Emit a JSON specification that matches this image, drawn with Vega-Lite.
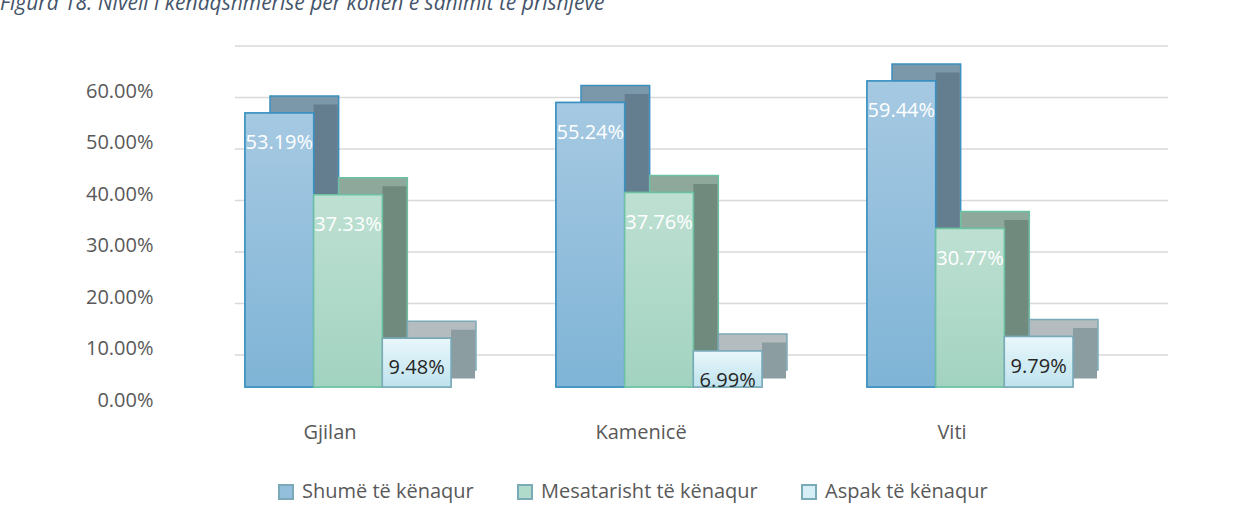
{
  "$schema": "https://vega.github.io/schema/vega-lite/v6.json",
  "width": 933,
  "height": 309,
  "autosize": {"type": "none"},
  "padding": {"left": 235, "top": 78, "right": 81, "bottom": 133},
  "background": "white",
  "title": {
    "text": "Figura 18. Niveli i kënaqshmërisë për kohën e sahimit të prishjeve",
    "anchor": "start",
    "frame": "group",
    "dx": -235,
    "dy": -27,
    "font": "Open Sans",
    "fontSize": 21,
    "fontStyle": "italic",
    "fontWeight": "normal",
    "color": "#44546A"
  },
  "config": {
    "view": {"stroke": null},
    "font": "Open Sans",
    "legend": {
      "orient": "none",
      "legendX": 41,
      "legendY": 404,
      "direction": "horizontal",
      "symbolType": "square",
      "symbolSize": 196,
      "symbolStrokeWidth": 2,
      "labelFont": "Open Sans",
      "labelFontSize": 20,
      "labelColor": "#595959",
      "labelOffset": 6,
      "labelLimit": 400,
      "columnPadding": 40
    }
  },
  "layer": [
    {
      "data": {"values": [{"t": 0}, {"t": 0.1}, {"t": 0.2}, {"t": 0.3}, {"t": 0.4}, {"t": 0.5}, {"t": 0.6}]},
      "mark": {"type": "rule", "color": "#d9d9d9", "strokeWidth": 1.5, "yOffset": -32},
      "encoding": {
        "y": {
          "field": "t", "type": "quantitative", "scale": {"domain": [0, 0.6]},
          "axis": {"title": null, "format": ".2%", "values": [0, 0.1, 0.2, 0.3, 0.4, 0.5, 0.6], "grid": false, "domain": false, "ticks": false, "labelPadding": 82, "labelOffset": 13, "labelFontSize": 20, "labelColor": "#595959", "labelFont": "Open Sans"}
        }
      }
    },
    {
      "data": {
        "values": [
          {"komuna": "Gjilan", "niveli": "Shumë të kënaqur", "vlera": 0.5319},
          {"komuna": "Gjilan", "niveli": "Mesatarisht të kënaqur", "vlera": 0.3733},
          {"komuna": "Gjilan", "niveli": "Aspak të kënaqur", "vlera": 0.0948},
          {"komuna": "Kamenicë", "niveli": "Shumë të kënaqur", "vlera": 0.5524},
          {"komuna": "Kamenicë", "niveli": "Mesatarisht të kënaqur", "vlera": 0.3776},
          {"komuna": "Kamenicë", "niveli": "Aspak të kënaqur", "vlera": 0.0699},
          {"komuna": "Viti", "niveli": "Shumë të kënaqur", "vlera": 0.5944},
          {"komuna": "Viti", "niveli": "Mesatarisht të kënaqur", "vlera": 0.3077},
          {"komuna": "Viti", "niveli": "Aspak të kënaqur", "vlera": 0.0979}
        ]
      },
      "encoding": {
        "x": {
          "field": "komuna", "type": "nominal", "sort": ["Gjilan", "Kamenicë", "Viti"],
          "scale": {"paddingInner": 0.3376, "paddingOuter": 0.1688, "align": 0.0952},
          "axis": {"title": null, "ticks": false, "domain": false, "labelAngle": 0, "labelPadding": 35, "labelOffset": -18, "labelFontSize": 20, "labelColor": "#595959", "labelFont": "Open Sans"}
        },
        "y": {
          "field": "vlera", "type": "quantitative", "scale": {"domain": [0, 0.6]},
          "axis": {"title": null, "format": ".2%", "values": [0, 0.1, 0.2, 0.3, 0.4, 0.5, 0.6], "grid": false, "domain": false, "ticks": false, "labelPadding": 82, "labelOffset": 13, "labelFontSize": 20, "labelColor": "#595959", "labelFont": "Open Sans"}
        }
      },
      "resolve": {"scale": {"xOffset": "independent"}},
      "layer": [
        {
          "mark": {"type": "bar", "yOffset": -17, "y2Offset": -17, "strokeWidth": 1.5},
          "encoding": {
            "xOffset": {"field": "niveli", "type": "nominal", "sort": ["Shumë të kënaqur", "Mesatarisht të kënaqur", "Aspak të kënaqur"], "scale": {"range": [25, 231]}},
            "fill": {"condition": [{"test": "datum.niveli === 'Shumë të kënaqur'", "value": "#7b97aa"}, {"test": "datum.niveli === 'Mesatarisht të kënaqur'", "value": "#8ea99c"}], "value": "#b4bcbf"},
            "stroke": {"condition": [{"test": "datum.niveli === 'Shumë të kënaqur'", "value": "#3a90bf"}, {"test": "datum.niveli === 'Mesatarisht të kënaqur'", "value": "#6cc1a3"}], "value": "#7aa9b8"}
          }
        },
        {
          "mark": {"type": "bar", "width": 24, "yOffset": -8.5, "y2Offset": -8.5, "strokeWidth": 0},
          "encoding": {
            "xOffset": {"field": "niveli", "type": "nominal", "sort": ["Shumë të kënaqur", "Mesatarisht të kënaqur", "Aspak të kënaqur"], "scale": {"range": [46.35, 252.35]}},
            "fill": {"condition": [{"test": "datum.niveli === 'Shumë të kënaqur'", "value": "#647d8f"}, {"test": "datum.niveli === 'Mesatarisht të kënaqur'", "value": "#708a7e"}], "value": "#8c9da2"}
          }
        },
        {
          "mark": {"type": "bar", "strokeWidth": 1.5},
          "encoding": {
            "xOffset": {"field": "niveli", "type": "nominal", "sort": ["Shumë të kënaqur", "Mesatarisht të kënaqur", "Aspak të kënaqur"]},
            "fill": {
              "field": "niveli", "type": "nominal", "sort": ["Shumë të kënaqur", "Mesatarisht të kënaqur", "Aspak të kënaqur"],
              "scale": {"range": ["#93bfdc", "#b0dac9", "#d6eef5"]},
              "legend": {"title": null, "encode": {"symbols": {"update": {"stroke": {"signal": "datum.value === 'Shumë të kënaqur' ? '#3a90bf' : datum.value === 'Mesatarisht të kënaqur' ? '#6cc1a3' : '#7aa9b8'"}, "strokeWidth": {"value": 2}}}}}
            },
            "stroke": {"condition": [{"test": "datum.niveli === 'Shumë të kënaqur'", "value": "#3a90bf"}, {"test": "datum.niveli === 'Mesatarisht të kënaqur'", "value": "#6cc1a3"}], "value": "#7aa9b8"}
          }
        },
        {
          "transform": [{"filter": "datum.niveli === 'Shumë të kënaqur'"}],
          "mark": {"type": "bar", "strokeWidth": 1.5, "stroke": "#3a90bf", "fill": {"gradient": "linear", "x1": 0, "y1": 0, "x2": 0, "y2": 1, "stops": [{"offset": 0, "color": "#a6c9e2"}, {"offset": 1, "color": "#7fb4d6"}]}},
          "encoding": {"xOffset": {"field": "niveli", "type": "nominal", "sort": ["Shumë të kënaqur", "Mesatarisht të kënaqur", "Aspak të kënaqur"], "scale": {"domain": ["Shumë të kënaqur", "Mesatarisht të kënaqur", "Aspak të kënaqur"]}}}
        },
        {
          "transform": [{"filter": "datum.niveli === 'Mesatarisht të kënaqur'"}],
          "mark": {"type": "bar", "strokeWidth": 1.5, "stroke": "#6cc1a3", "fill": {"gradient": "linear", "x1": 0, "y1": 0, "x2": 0, "y2": 1, "stops": [{"offset": 0, "color": "#bee0d2"}, {"offset": 1, "color": "#a2d3c0"}]}},
          "encoding": {"xOffset": {"field": "niveli", "type": "nominal", "sort": ["Shumë të kënaqur", "Mesatarisht të kënaqur", "Aspak të kënaqur"], "scale": {"domain": ["Shumë të kënaqur", "Mesatarisht të kënaqur", "Aspak të kënaqur"]}}}
        },
        {
          "transform": [{"filter": "datum.niveli === 'Aspak të kënaqur'"}],
          "mark": {"type": "bar", "strokeWidth": 1.5, "stroke": "#7aa9b8", "fill": {"gradient": "linear", "x1": 0, "y1": 0, "x2": 0, "y2": 1, "stops": [{"offset": 0, "color": "#e9f7fb"}, {"offset": 1, "color": "#bfe3ee"}]}},
          "encoding": {"xOffset": {"field": "niveli", "type": "nominal", "sort": ["Shumë të kënaqur", "Mesatarisht të kënaqur", "Aspak të kënaqur"], "scale": {"domain": ["Shumë të kënaqur", "Mesatarisht të kënaqur", "Aspak të kënaqur"]}}}
        },
        {
          "mark": {"type": "text", "dy": 30, "baseline": "middle", "align": "center", "font": "Open Sans", "fontSize": 20},
          "encoding": {
            "xOffset": {"field": "niveli", "type": "nominal", "sort": ["Shumë të kënaqur", "Mesatarisht të kënaqur", "Aspak të kënaqur"]},
            "text": {"field": "vlera", "type": "quantitative", "format": ".2%"},
            "color": {"condition": {"test": "datum.niveli === 'Aspak të kënaqur'", "value": "#262626"}, "value": "#ffffff"}
          }
        }
      ]
    }
  ]
}
